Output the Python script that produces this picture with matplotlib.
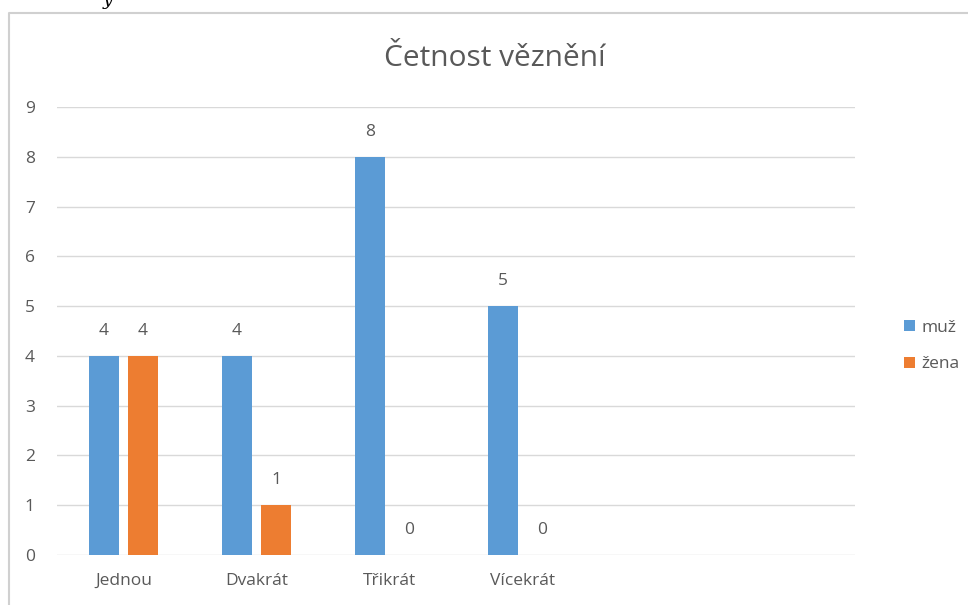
import matplotlib
matplotlib.use("Agg")
import matplotlib.pyplot as plt
from matplotlib.lines import Line2D
import numpy as np

plt.rcParams['font.family'] = ['Open Sans', 'DejaVu Sans']

title = 'Četnost věznění'
categories = ['Jednou', 'Dvakrát', 'Třikrát', 'Vícekrát']
series_names = ['muž', 'žena']
muz = [4, 4, 8, 5]
zena = [4, 1, 0, 0]

blue = '#5B9BD5'
orange = '#ED7D31'
text_col = '#595959'
grid_col = '#D9D9D9'
fs = 12.5

fig = plt.figure(figsize=(9.68, 6.05), dpi=100)
ax = fig.add_axes([57 / 968, 1 - 555 / 605, (855 - 57) / 968, (555 - 107) / 605])

x = np.arange(len(categories))
w = 0.225
off = 0.147
b1 = ax.bar(x - off, muz, w, color=blue, label=series_names[0], zorder=3)
b2 = ax.bar(x + off, zena, w, color=orange, label=series_names[1], zorder=3)

for bars, vals in [(b1, muz), (b2, zena)]:
    for rect, v in zip(bars, vals):
        ax.annotate(str(v), (rect.get_x() + rect.get_width() / 2, v),
                    xytext=(0, 18), textcoords='offset points',
                    ha='center', va='center', fontsize=fs, color=text_col)

ax.set_xlim(-0.5, 5.5)
ax.set_ylim(0, 9)
ax.set_yticks(range(0, 10))
ax.set_xticks(x)
ax.set_xticklabels(categories)
ax.tick_params(axis='both', length=0, labelsize=fs, labelcolor=text_col)
ax.tick_params(axis='x', pad=13)
ax.tick_params(axis='y', pad=16)
ax.grid(axis='y', color=grid_col, linewidth=1, zorder=0)
for s in ax.spines.values():
    s.set_visible(False)

fig.text(495 / 968, 1 - 59 / 605, title, ha='center', va='center',
         fontsize=21.5, color=text_col)

leg = fig.legend(loc='center left', bbox_to_anchor=(888 / 968, 1 - 346 / 605),
                 frameon=False, fontsize=fs, handlelength=0.65, handleheight=0.65,
                 handletextpad=0.4, labelspacing=1.2, labelcolor=text_col)

# chart frame (top and left edges visible)
fig.add_artist(Line2D([9 / 968, 9 / 968, 1.0], [0.0, 1 - 13 / 605, 1 - 13 / 605],
                      transform=fig.transFigure, color='#D0D0D0', linewidth=1.5))
fig.text(108 / 968, 1.0, 'y', ha='center', va='center', fontsize=13,
         style='italic', family='DejaVu Serif', color='black')

fig.savefig('out.png', dpi=100, facecolor='white')
